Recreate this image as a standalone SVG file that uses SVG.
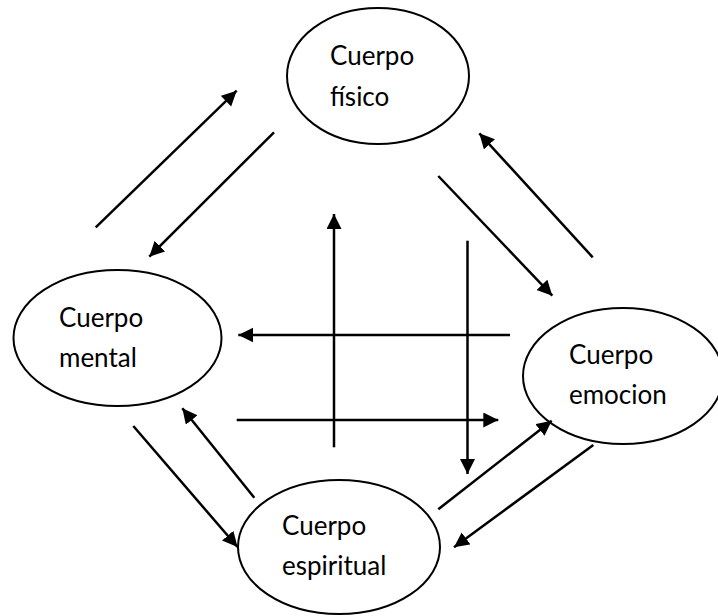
<svg xmlns="http://www.w3.org/2000/svg" width="718" height="616" viewBox="0 0 718 616">
<defs>
<marker id="ah" markerUnits="userSpaceOnUse" markerWidth="16" markerHeight="16" viewBox="0 0 16 16" refX="15" refY="7.5" orient="auto">
<path d="M0,0 L15,7.5 L0,15 z" fill="#000"/>
</marker>
<style>
.node ellipse{fill:#fff;stroke:#000;stroke-width:2}
.node text{font-family:Lato,"Liberation Sans",sans-serif;font-size:26px;fill:#000}
.conn line{stroke:#000;stroke-width:2.5;fill:none}
.conn line.a{marker-end:url(#ah)}
</style>
</defs>
<rect width="718" height="616" fill="#fff"/>
<g id="fisico" class="node">
<ellipse cx="378" cy="76" rx="91" ry="68"/>
<text x="330" y="65">Cuerpo</text>
<text x="330" y="106">físico</text>
</g>
<g id="mental" class="node">
<ellipse cx="117.5" cy="338" rx="104" ry="68"/>
<text x="59" y="327">Cuerpo</text>
<text x="59" y="367">mental</text>
</g>
<g id="emocion" class="node">
<ellipse cx="623" cy="376" rx="100" ry="68"/>
<text x="569" y="364">Cuerpo</text>
<text x="569" y="404">emocion</text>
</g>
<g id="espiritual" class="node">
<ellipse cx="339" cy="547" rx="101" ry="67"/>
<text x="282" y="535">Cuerpo</text>
<text x="282" y="575">espiritual</text>
</g>
<g id="connectors" class="conn">
<line class="a" x1="95.7" y1="227.3" x2="236.7" y2="90.7"/>
<line class="a" x1="274" y1="132.3" x2="149.3" y2="256.7"/>
<line class="a" x1="592.7" y1="257.3" x2="479.3" y2="133.3"/>
<line class="a" x1="438.3" y1="176" x2="552.3" y2="295.7"/>
<line class="a" x1="334" y1="447.3" x2="334" y2="214"/>
<line class="a" x1="467.5" y1="240.7" x2="467.5" y2="474"/>
<line class="a" x1="510" y1="335" x2="238.3" y2="335"/>
<line class="a" x1="236.7" y1="420" x2="498.3" y2="420"/>
<line class="a" x1="254.3" y1="497.7" x2="182.3" y2="408.3"/>
<line class="a" x1="133.3" y1="426" x2="237.5" y2="547"/>
<line class="a" x1="438.3" y1="509.3" x2="551.7" y2="420.7"/>
<line class="a" x1="593.3" y1="445" x2="454" y2="547.3"/>
</g>
</svg>
